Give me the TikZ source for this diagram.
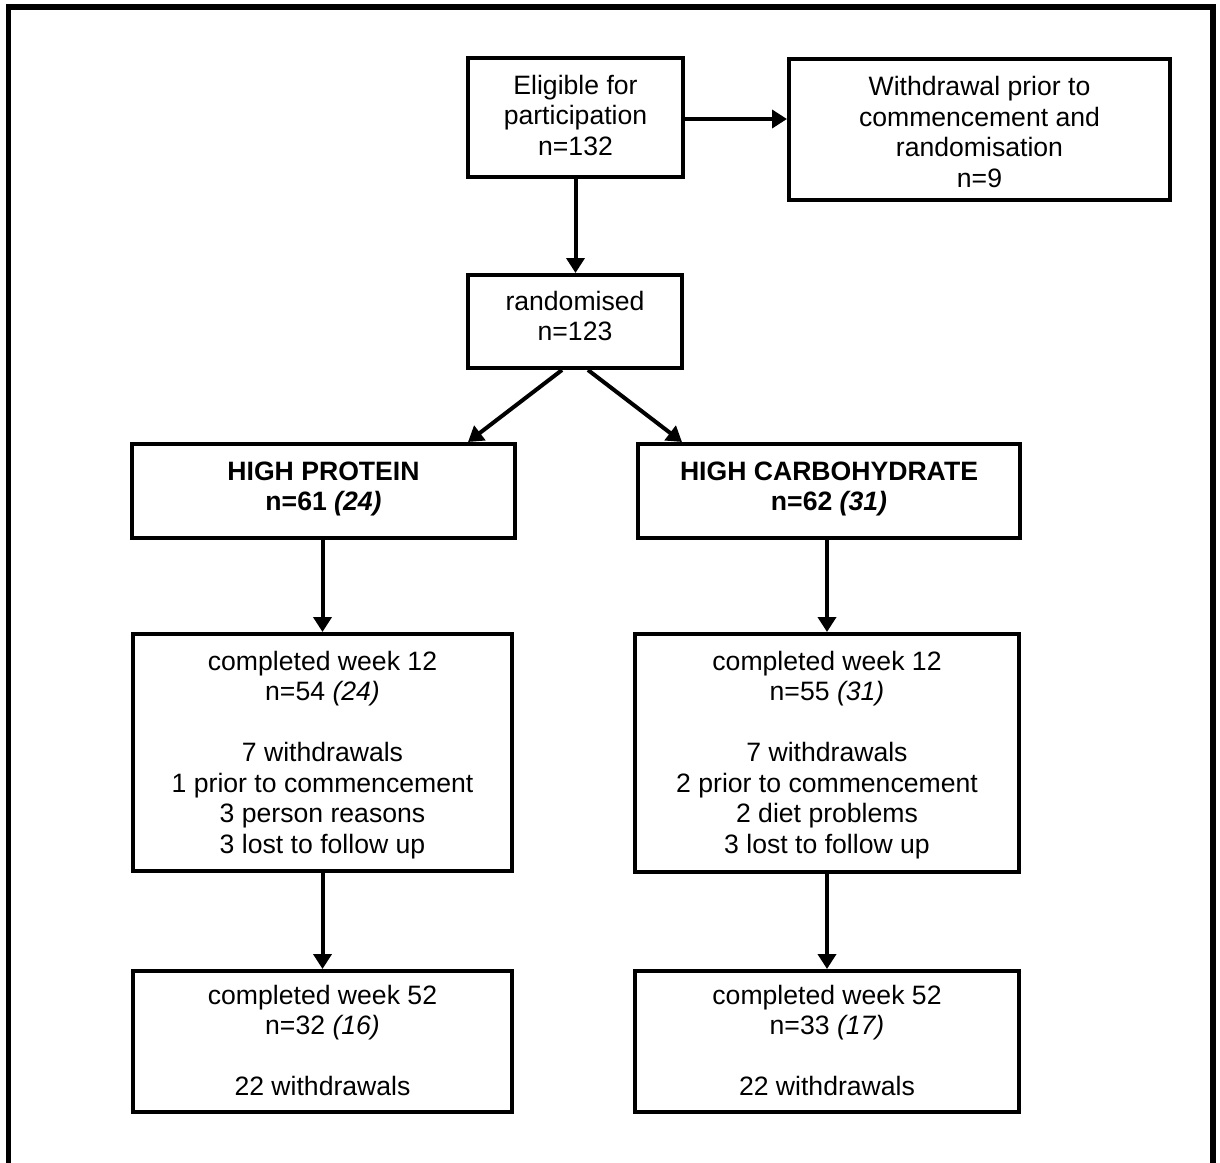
\documentclass[tikz,border=0pt]{standalone}
\usepackage{fontspec}
\setmainfont{Liberation Sans}
\usetikzlibrary{arrows.meta}
\newcommand\mylines[1]{\begin{tabular}[t]{@{}c@{}}#1\end{tabular}}
\tikzset{
  box/.style={draw=black, line width=4pt, inner sep=0pt, fill=white},
  txt/.style={inner sep=0pt, anchor=base, font=\fontsize{26.6}{30.5}\selectfont},
  conn/.style={line width=4pt, -{Triangle[length=15pt,width=18pt]}},
  frame/.style={line width=5.5pt, line join=miter}
}
\begin{document}
\begin{tikzpicture}[x=1pt,y=-1pt]
\useasboundingbox (0,0) rectangle (1220,1162);
\clip (0,0) rectangle (1220,1162);
\fill[white] (0,0) rectangle (1220,1162);
\draw[frame] (8.5,1175) -- (8.5,7) -- (1213,7) -- (1213,1175);

% boxes
\node[box, minimum width=215pt, minimum height=119pt] (elig) at (575.5,117.5) {};
\node[box, minimum width=381pt, minimum height=141pt] (withd) at (979.5,129.5) {};
\node[box, minimum width=214pt, minimum height=93pt] (rand) at (575,321.5) {};
\node[box, minimum width=383pt, minimum height=94pt] (hp) at (323.5,491) {};
\node[box, minimum width=382pt, minimum height=94pt] (hc) at (829,491) {};
\node[box, minimum width=379pt, minimum height=237pt] (wkl) at (322.5,752.5) {};
\node[box, minimum width=384pt, minimum height=238pt] (wkr) at (827,753) {};
\node[box, minimum width=379pt, minimum height=141pt] (yrl) at (322.5,1041.5) {};
\node[box, minimum width=384pt, minimum height=141pt] (yrr) at (827,1041.5) {};

% texts
\node[txt] (telig) at (575.5,94) {\mylines{Eligible for\\participation\\n=132}};
\node[txt] (twithd) at (979.5,95.5) {\mylines{Withdrawal prior to\\commencement and\\randomisation\\n=9}};
\node[txt] (trand) at (575,310) {\mylines{randomised\\n=123}};
\node[txt] (thp) at (323.5,480) {\mylines{\textbf{HIGH PROTEIN}\\\textbf{n=61 \textit{(24)}}}};
\node[txt] (thc) at (829,480) {\mylines{\textbf{HIGH CARBOHYDRATE}\\\textbf{n=62 \textit{(31)}}}};
\node[txt] (twkl) at (322.5,670) {\mylines{completed week 12\\n=54 \textit{(24)}\\ \\7 withdrawals\\1 prior to commencement\\3 person reasons\\3 lost to follow up}};
\node[txt] (twkr) at (827,670) {\mylines{completed week 12\\n=55 \textit{(31)}\\ \\7 withdrawals\\2 prior to commencement\\2 diet problems\\3 lost to follow up}};
\node[txt] (tyrl) at (322.5,1004) {\mylines{completed week 52\\n=32 \textit{(16)}\\ \\22 withdrawals}};
\node[txt] (tyrr) at (827,1004) {\mylines{completed week 52\\n=33 \textit{(17)}\\ \\22 withdrawals}};

% connectors
\draw[conn] ([yshift=-1.5pt]elig.east) -- ([yshift=-1.5pt]elig.east -| withd.west);
\draw[conn] (elig.south) -- (elig.south |- rand.north);
\draw[conn] ([xshift=-13pt]rand.south) -- ([xshift=144.5pt]hp.north);
\draw[conn] ([xshift=13pt]rand.south) -- ([xshift=-147pt]hc.north);
\draw[conn] (wkl.north |- hp.south) -- (wkl.north);
\draw[conn] (wkr.north |- hc.south) -- (wkr.north);
\draw[conn] (wkl.south) -- (yrl.north);
\draw[conn] (wkr.south) -- (yrr.north);
\end{tikzpicture}
\end{document}
